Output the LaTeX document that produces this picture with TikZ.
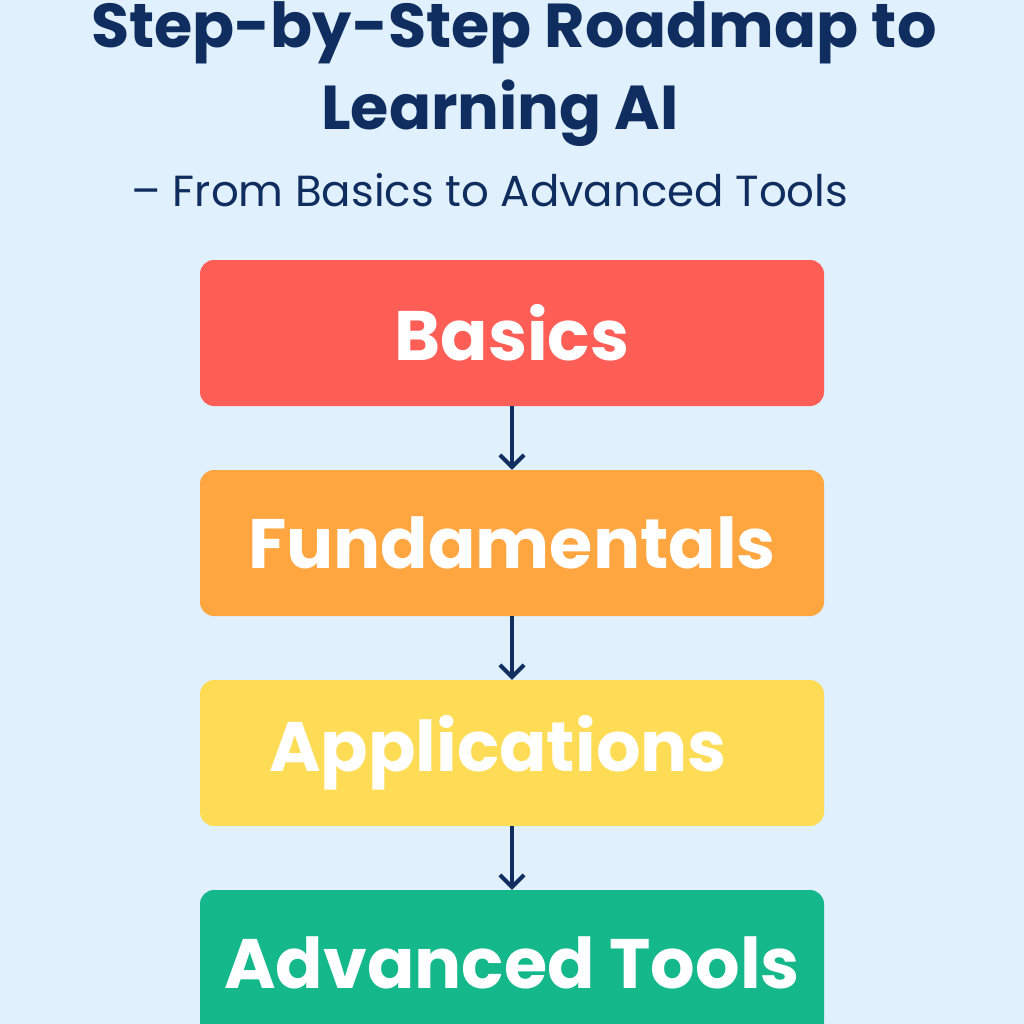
\documentclass[tikz,border=0pt]{standalone}
\usepackage{fontspec}
\setmainfont{Poppins}
\usetikzlibrary{positioning}
\definecolor{bgblue}{HTML}{E0F0FC}
\definecolor{navy}{HTML}{0F2D5E}
\definecolor{stepred}{HTML}{FF5E57}
\definecolor{steporange}{HTML}{FFA640}
\definecolor{stepyellow}{HTML}{FFDC55}
\definecolor{stepgreen}{HTML}{14B88A}
\tikzset{
  stepbox/.style={rounded corners=14pt, minimum width=624pt, minimum height=146pt,
    text=white, font=\fontsize{70}{74}\selectfont\bfseries, inner sep=0pt},
  steparrow/.style={draw=navy, line width=4pt, -{Straight Barb[length=12pt,width=24pt]}}
}
\usetikzlibrary{arrows.meta}
\begin{document}
\begin{tikzpicture}[x=1pt,y=-1pt]
		\clip (0,0) rectangle (1024,1024);
		\fill[bgblue] (0,0) rectangle (1024,1024);
		%title
		\node[text=navy, font=\fontsize{62}{66}\selectfont\bfseries] (title1) at (514,33) {Step-by-Step Roadmap to};
		\node[text=navy, font=\fontsize{62}{66}\selectfont\bfseries] (title2) at (500,113) {Learning AI};
		\node[text=navy, font=\fontsize{43.5}{46}\selectfont] (subtitle) at (490,190) {-- From Basics to Advanced Tools};

		%steps
		\node[stepbox, fill=stepred] (basics) at (512,333) {Basics};
		\node[stepbox, fill=steporange] (fund) at (512,543) {Fundamentals};
		\node[stepbox, fill=stepyellow] (apps) at (512,753) {\hspace*{-28pt}Applications};
		\node[stepbox, fill=stepgreen] (adv) at (512,963) {Advanced Tools};

		\draw[steparrow] (basics) -- (fund);
		\draw[steparrow] (fund) -- (apps);
		\draw[steparrow] (apps) -- (adv);
	\end{tikzpicture}
\end{document}
